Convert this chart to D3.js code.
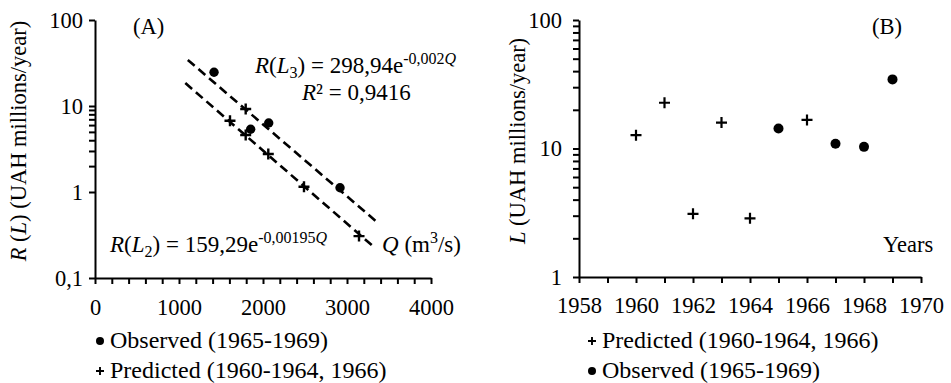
<!DOCTYPE html>
<html>
<head>
<meta charset="utf-8">
<script src="https://cdn.jsdelivr.net/npm/d3@7"></script>
</head>
<body style="margin:0;background:#fff">
<svg id="chart" width="951" height="383"></svg>
<script>
// panel A : R(L) against discharge Q
var obsQ = [1417, 2068, 1853, 2917];
var obsR = [24.7, 6.34, 5.36, 1.12];
var predQ = [1794, 1607, 1794, 2063, 2488, 3143];
var predR = [9.22, 6.75, 4.6, 2.77, 1.15, 0.307];
// trend lines, end points [Q, R]
var trendL3 = [[1105, 34.3], [3370, 0.436]];
var trendL2 = [[1075, 18.5], [3335, 0.223]];
var xTicksA = d3.range(0, 4001, 200);
var yTicksA = [0.1, 1, 2, 3, 4, 5, 6, 7, 8, 9, 10, 100];

// panel B : L by year
var predYears = [1960, 1961, 1962, 1963, 1964, 1966];
var predL = [12.7, 22.7, 3.1, 15.9, 2.86, 16.7];
var obsYears = [1965, 1967, 1968, 1969];
var obsL = [14.3, 10.9, 10.3, 34.5];
var xTicksB = d3.range(1958, 1971, 1);
var yTicksB = [1, 2, 3, 4, 5, 6, 7, 8, 9, 10, 20, 30, 40, 50, 60, 70, 80, 90, 100];

var serif = "Liberation Serif";
var svg = d3.select("#chart");
var fs = 22.5;

var plus = "M-5.5,0H5.5M0,-5.5V5.5";

// scales
var xA = d3.scaleLinear().domain([0, 4000]).range([95, 431]);
var yA = d3.scaleLog().domain([0.1, 100]).range([278, 20]);
var xB = d3.scaleLinear().domain([1958, 1970]).range([579, 921]);
var yB = d3.scaleLog().domain([1, 100]).range([277, 20]);

function styleAxis(g) {
	g.select(".domain").attr("stroke-width", 2);
	g.selectAll(".tick line").attr("stroke-width", 2);
	g.selectAll(".tick text").attr("fill", "#000");
}

function drawAxes(x, y, xTicks, xFmt, yTicks, yFmt, xPad, yPad) {
	svg.append("g")
		.attr("transform", "translate(0," + y.range()[0] + ")")
		.call(d3.axisBottom(x).tickValues(xTicks).tickFormat(xFmt)
			.tickSize(6).tickSizeOuter(0).tickPadding(xPad))
		.call(styleAxis);
	svg.append("g")
		.attr("transform", "translate(" + x.range()[0] + ",0)")
		.call(d3.axisLeft(y).tickValues(yTicks).tickFormat(yFmt)
			.tickSize(6).tickSizeOuter(0).tickPadding(yPad))
		.call(styleAxis);
}

// ---- panel A ----
drawAxes(xA, yA, xTicksA, function(d) { return d % 1000 === 0 ? d : ""; },
	yTicksA, function(d) {
		if (d === 0.1) return "0,1";
		return [1, 10, 100].indexOf(d) >= 0 ? d : "";
	}, 15, 6);

[trendL3, trendL2].forEach(function(t) {
	svg.append("line")
		.attr("x1", xA(t[0][0])).attr("y1", yA(t[0][1]))
		.attr("x2", xA(t[1][0])).attr("y2", yA(t[1][1]))
		.attr("stroke", "#000")
		.attr("stroke-width", 2.6)
		.attr("stroke-dasharray", "9,5");
});

svg.append("g").selectAll("circle")
	.data(d3.zip(obsQ, obsR))
	.enter().append("circle")
	.attr("cx", function(d) { return xA(d[0]); })
	.attr("cy", function(d) { return yA(d[1]); })
	.attr("r", 4.7)
	.attr("fill", "#000");

svg.append("g").selectAll("path")
	.data(d3.zip(predQ, predR))
	.enter().append("path")
	.attr("d", plus)
	.attr("transform", function(d) { return "translate(" + xA(d[0]) + "," + yA(d[1]) + ")"; })
	.attr("stroke", "#000")
	.attr("stroke-width", 2.4);

// ---- panel B ----
drawAxes(xB, yB, xTicksB, function(d) { return d % 2 === 0 ? d : ""; },
	yTicksB, function(d) { return [1, 10, 100].indexOf(d) >= 0 ? d : ""; }, 14, 11);

svg.append("g").selectAll("path")
	.data(d3.zip(predYears, predL))
	.enter().append("path")
	.attr("d", plus)
	.attr("transform", function(d) { return "translate(" + xB(d[0]) + "," + yB(d[1]) + ")"; })
	.attr("stroke", "#000")
	.attr("stroke-width", 2.2);

svg.append("g").selectAll("circle")
	.data(d3.zip(obsYears, obsL))
	.enter().append("circle")
	.attr("cx", function(d) { return xB(d[0]); })
	.attr("cy", function(d) { return yB(d[1]); })
	.attr("r", 5)
	.attr("fill", "#000");

// ---- texts ----
// parts: t text, i italic, small smaller font, dy shift
function label(x, y, parts, size) {
	var t = svg.append("text")
		.attr("x", x).attr("y", y)
		.attr("font-size", size || fs);
	parts.forEach(function(p) {
		var s = t.append("tspan").text(p.t);
		if (p.i) s.attr("font-style", "italic");
		if (p.small) s.attr("font-size", 16);
		if (p.dy) s.attr("dy", p.dy);
	});
	return t;
}

label(133, 34, [{t: "(A)"}]);
label(872, 34, [{t: "(B)"}]);

label(255, 73, [{t: "R", i: 1}, {t: "("}, {t: "L", i: 1}, {t: "3", small: 1, dy: 5},
	{t: ") = 298,94e", dy: -5}, {t: "-0,002", small: 1, dy: -9}, {t: "Q", i: 1, small: 1}], 23);
label(302, 100, [{t: "R", i: 1}, {t: "² = 0,9416"}], 23);
label(110, 252, [{t: "R", i: 1}, {t: "("}, {t: "L", i: 1}, {t: "2", small: 1, dy: 5},
	{t: ") = 159,29e", dy: -5}, {t: "-0,00195", small: 1, dy: -9}, {t: "Q", i: 1, small: 1}], 23);
label(382, 252, [{t: "Q", i: 1}, {t: " (m"}, {t: "3", small: 1, dy: -9}, {t: "/s)", dy: 9}], 23);
label(883, 252, [{t: "Years"}]);

// axis titles
svg.append("text")
	.attr("transform", "translate(26,141) rotate(-90)")
	.attr("text-anchor", "middle")
	.attr("font-size", fs)
	.call(function(t) {
		t.append("tspan").text("R").attr("font-style", "italic");
		t.append("tspan").text(" (");
		t.append("tspan").text("L").attr("font-style", "italic");
		t.append("tspan").text(") (UAH millions/year)");
	});
svg.append("text")
	.attr("transform", "translate(525,141) rotate(-90)")
	.attr("text-anchor", "middle")
	.attr("font-size", fs)
	.call(function(t) {
		t.append("tspan").text("L").attr("font-style", "italic");
		t.append("tspan").text(" (UAH millions/year)");
	});

// legends
function legendItem(x, y, kind, txt) {
	if (kind === "dot") {
		svg.append("circle").attr("cx", x).attr("cy", y - 7).attr("r", 4).attr("fill", "#000");
	} else {
		svg.append("path").attr("d", "M-4,0H4M0,-4V4")
			.attr("transform", "translate(" + x + "," + (y - 7) + ")")
			.attr("stroke", "#000").attr("stroke-width", 1.9);
	}
	svg.append("text").attr("x", x + 10).attr("y", y)
		.attr("font-size", 24).text(txt);
}

legendItem(100, 348, "dot", "Observed (1965-1969)");
legendItem(100, 378, "plus", "Predicted (1960-1964, 1966)");
legendItem(592, 348, "plus", "Predicted (1960-1964, 1966)");
legendItem(592, 378, "dot", "Observed (1965-1969)");

// every text in the serif face
svg.selectAll("text").attr("font-family", serif);
svg.selectAll(".tick text").attr("font-size", fs);
</script>
</body>
</html>
